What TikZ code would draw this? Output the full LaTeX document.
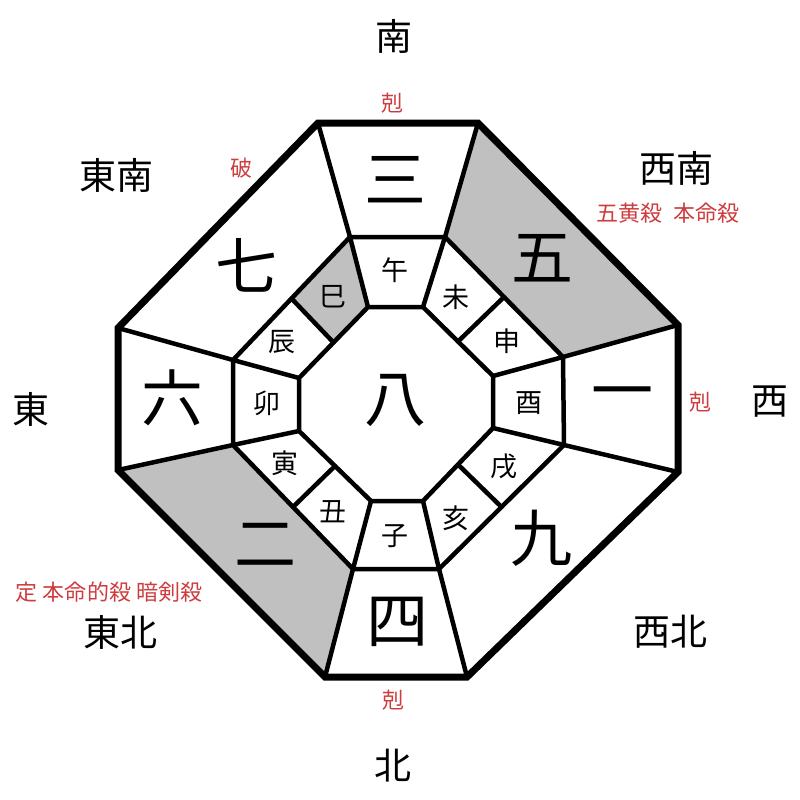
\documentclass[tikz,border=0pt]{standalone}
\usepackage{fontspec}
\setmainfont{Noto Sans CJK JP}
\usetikzlibrary{calc}
\definecolor{kred}{RGB}{205,60,62}
\definecolor{kgray}{RGB}{192,192,192}
\tikzset{
  outerline/.style={line width=7pt, line join=miter},
  innerline/.style={line width=4.5pt, line join=round, line cap=round},
  dirlabel/.style={inner sep=0pt, font=\fontsize{37}{37}\selectfont},
  redlabel/.style={inner sep=0pt, text=kred, font=\fontsize{22}{22}\selectfont},
  numlabel/.style={inner sep=0pt, font=\fontsize{62}{62}\selectfont},
  branchlabel/.style={inner sep=0pt, font=\fontsize{27}{27}\selectfont},
}
\begin{document}
\begin{tikzpicture}[x=1pt,y=-1pt]
\useasboundingbox (0,0) rectangle (800,800);
% outer octagon
\coordinate (O1) at (318,123); \coordinate (O2) at (478,123);
\coordinate (O3) at (678,325); \coordinate (O4) at (678,472);
\coordinate (O5) at (467,677); \coordinate (O6) at (325,677);
\coordinate (O7) at (118,470); \coordinate (O8) at (118,328);
% middle octagon
\coordinate (M1) at (350,237); \coordinate (M2) at (445,237);
\coordinate (M3) at (563,357); \coordinate (M4) at (564,445);
\coordinate (M5) at (439,569); \coordinate (M6) at (353,569);
\coordinate (M7) at (233,445); \coordinate (M8) at (233,360);
% inner octagon
\coordinate (I1) at (368,307); \coordinate (I2) at (423,307);
\coordinate (I3) at (493,376); \coordinate (I4) at (493,428);
\coordinate (I5) at (423,501); \coordinate (I6) at (371,501);
\coordinate (I7) at (299,431); \coordinate (I8) at (299,378);
% midpoints for split lines
\coordinate (MA) at ($(M2)!0.5!(M3)$); \coordinate (IA) at ($(I2)!0.5!(I3)$);
\coordinate (MB) at ($(M4)!0.5!(M5)$); \coordinate (IB) at ($(I4)!0.5!(I5)$);
\coordinate (MC) at ($(M6)!0.5!(M7)$); \coordinate (IC) at ($(I6)!0.5!(I7)$);
\coordinate (MD) at ($(M8)!0.5!(M1)$); \coordinate (ID) at ($(I8)!0.5!(I1)$);
% gray fills
\fill[kgray] (O2) -- (O3) -- (M3) -- (M2) -- cycle;
\fill[kgray] (O6) -- (O7) -- (M7) -- (M6) -- cycle;
\fill[kgray] (M1) -- (MD) -- (ID) -- (I1) -- cycle;
% inner structure lines
\draw[innerline] (M1) -- (M2) -- (M3) -- (M4) -- (M5) -- (M6) -- (M7) -- (M8) -- cycle;
\draw[innerline] (I1) -- (I2) -- (I3) -- (I4) -- (I5) -- (I6) -- (I7) -- (I8) -- cycle;
\foreach \k in {1,...,8} {
  \draw[innerline] (O\k) -- (M\k);
  \draw[innerline] (M\k) -- (I\k);
}
\draw[innerline] (MA) -- (IA);
\draw[innerline] (MB) -- (IB);
\draw[innerline] (MC) -- (IC);
\draw[innerline] (MD) -- (ID);
% outer border
\draw[outerline] (O1) -- (O2) -- (O3) -- (O4) -- (O5) -- (O6) -- (O7) -- (O8) -- cycle;
% numbers
\node[numlabel] (n3) at (395,180) {三};
\node[numlabel] (n5) at (542,258) {五};
\node[numlabel] (n1) at (622,400) {一};
\node[numlabel] (n9) at (541,538) {九};
\node[numlabel] (n4) at (397,622) {四};
\node[numlabel] (n2) at (265,545) {二};
\node[numlabel] (n6) at (172,398) {六};
\node[numlabel] (n7) at (246,265) {七};
\node[numlabel] (n8) at (395,400) {八};
% branches
\node[branchlabel] (b1) at (395,270) {午};
\node[branchlabel] (b2) at (456,297) {未};
\node[branchlabel] (b3) at (507,341) {申};
\node[branchlabel] (b4) at (529,403) {酉};
\node[branchlabel] (b5) at (504,466) {戌};
\node[branchlabel] (b6) at (456,518) {亥};
\node[branchlabel] (b7) at (395,536) {子};
\node[branchlabel] (b8) at (333,512) {丑};
\node[branchlabel] (b9) at (285,463) {寅};
\node[branchlabel] (b10) at (267,403) {卯};
\node[branchlabel] (b11) at (282,342) {辰};
\node[branchlabel] (b12) at (333,297) {巳};
% directions
\node[dirlabel] (dS) at (394,36) {南};
\node[dirlabel] (dN) at (393,766) {北};
\node[dirlabel] (dE) at (31,409) {東};
\node[dirlabel] (dW) at (770,402) {西};
\node[dirlabel] (dSE) at (116,175) {東南};
\node[dirlabel] (dSW) at (676,168) {西南};
\node[dirlabel] (dNE) at (120,632) {東北};
\node[dirlabel] (dNW) at (670,632) {西北};
% red labels
\node[redlabel] (rS) at (392,103) {剋};
\node[redlabel] (rN) at (393,700) {剋};
\node[redlabel] (rW) at (700,402) {剋};
\node[redlabel] (rSE) at (241,168) {破};
\node[redlabel] (rSW) at (668,213) {五黄殺\hspace{0.5em}本命殺};
\node[redlabel] (rNE) at (109,592) {定\hspace{0.25em}本命的殺\hspace{0.25em}暗剣殺};
\end{tikzpicture}
\end{document}
